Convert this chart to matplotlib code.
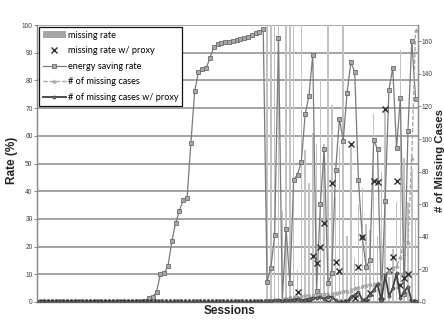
import numpy as np
import matplotlib
matplotlib.use("Agg")
import matplotlib.pyplot as plt
from matplotlib.patches import Patch
from matplotlib.lines import Line2D

# ---------------- data ----------------
n_sessions = 100
sessions = np.arange(n_sessions)

energy_saving_rate = [0.0] * 28 + [
    0.5, 1.3, 1.8, 3.7, 10, 10.5, 13, 22, 28.5, 33, 37, 37.5,
    57.4, 76, 83, 84, 84.4, 88, 92, 93, 93.4, 93.7, 94, 94.3,
    94.5, 94.8, 95.2, 95.8, 96.5, 97, 97.6, 98.5,
    7.1, 12.4, 24.1, 95.3, 0.5, 26.2, 6.7, 44.2, 46, 50.5,
    67.7, 74.5, 89.2, 4.1, 35.3, 55.3, 6.7, 10.6, 47.5, 66,
    58.3, 75.4, 86.5, 83.2, 43.9, 23.5, 12.7, 15.1, 58.6, 55.2,
    1, 36.5, 76.6, 84.5, 55.6, 73.7, 3, 61.9, 94.3, 73.3]

missing_rate = [0.0] * 60 + [
    100, 100, 100, 100, 33, 100, 100, 100, 11.5, 100,
    55, 43, 61, 57, 80, 57, 100, 71, 38, 56,
    100, 24, 57, 16, 35, 41, 28, 26, 68, 24,
    47, 70, 9, 19, 36, 91, 52, 36, 48, 30]

missing_rate_proxy = [0.0] * 60 + [
    0, 0, 0, 0, 0, 0, 0, 0, 3.7, 0,
    0, 0, 16.7, 14.2, 19.9, 28.7, 0, 42.9, 14.3, 11.2,
    0, 0, 57.1, 1.5, 12.5, 23.3, 0, 3.4, 43.7, 43.3,
    0.5, 69.5, 11.5, 16.1, 43.7, 6.1, 8.5, 10, 0, 0]

missing_cases = [0.0] * 60 + [
    1, 1, 1.5, 1.5, 2, 2.5, 2.8, 3, 3.2, 3.5,
    4, 4.2, 4.5, 4.6, 4.8, 5, 5.2, 5.4, 5.6, 6,
    6.5, 7, 7.5, 8.4, 9, 9.8, 10.4, 10.8, 11, 11.4,
    12.5, 16.5, 19, 20.6, 22, 27.7, 37, 37, 88.5, 167]

missing_cases_proxy = [0.0] * 60 + [
    0.5, 0.5, 1, 1, 0.5, 1, 1, 1.5, 2, 1,
    1.5, 2, 2.5, 2.5, 3, 2, 3.3, 3, 1, 0,
    0, 0, 3.3, 4.3, 6.3, 1.2, 2, 4.3, 7.3, 11,
    1, 16.5, 3.5, 8.5, 17.5, 2.5, 6.3, 9.4, 0, 0.5]

left_ticks = list(range(0, 101, 10))
right_ticks = list(range(0, 161, 20))

# ---------------- figure ----------------
W, H = 444, 321
fig = plt.figure(figsize=(W / 100, H / 100), dpi=100)
fig.patch.set_facecolor("white")
ax = fig.add_axes([37 / W, 1 - 302 / H, (417.5 - 37) / W, (302 - 25) / H])
ax2 = ax.twinx()

lab_font = dict(family="Liberation Sans", fontweight="bold", color="#222222")
tick_col = "#404040"
spine_col = "#8a8a8a"

bar_col = "#c2c2c2"
ax.bar(sessions, missing_rate, width=0.4, color=bar_col, zorder=1, linewidth=0)
ax.plot(sessions, energy_saving_rate, color="#7a7a7a", lw=0.9, marker="s", ms=2.6,
        mfc="#a8a8a8", mec="#6a6a6a", mew=0.6, zorder=3)
ax.plot(sessions, missing_rate_proxy, ls="none", marker="x", ms=3.8, mec="#303030",
        mew=1.0, zorder=4)

ax2.plot(sessions, missing_cases, color="#a6a6a6", ls=(0, (3, 1.5)), lw=1.0, marker="^",
         ms=2.4, mfc="#b0b0b0", mec="#9a9a9a", mew=0.5, zorder=3)
ax2.plot(sessions, missing_cases_proxy, color="#404040", lw=1.3, marker="o", ms=2.2,
         mfc="#707070", mec="#404040", mew=0.5, zorder=4)

ax.set_xlim(-0.4, 99.5)
ax.set_ylim(0, 100)
ax2.set_ylim(0, 170)
ax.set_yticks(left_ticks)
ax2.set_yticks(right_ticks)
ax.set_xticks([])

ax.yaxis.grid(True, color="#8a8a8a", lw=1.1)
ax.set_axisbelow(True)

for a in (ax, ax2):
    for s in a.spines.values():
        s.set_color(spine_col)
        s.set_linewidth(0.9)
    a.spines["top"].set_visible(False)
    a.tick_params(axis="y", labelsize=4.8, colors=spine_col, labelcolor=tick_col,
                  length=2.0, width=0.7, direction="out", pad=1.2)
    for t in a.get_yticklabels():
        t.set_family("Liberation Sans")

fig.text(12 / W, 1 - 160 / H, "Rate (%)", rotation=90, ha="center", va="center",
         fontsize=8.5, **lab_font)
fig.text(440 / W, 1 - 160 / H, "# of Missing Cases", rotation=90, ha="center",
         va="center", fontsize=8.2, **lab_font)
fig.text(229 / W, 1 - 311 / H, "Sessions", ha="center", va="center",
         fontsize=8.5, **lab_font)

handles = [
    Patch(facecolor="#a6a6a6", edgecolor="none"),
    Line2D([], [], ls="none", marker="x", ms=3.8, mec="#303030", mew=1.0),
    Line2D([], [], color="#7a7a7a", lw=0.9, marker="s", ms=2.6, mfc="#a8a8a8",
           mec="#6a6a6a", mew=0.6),
    Line2D([], [], color="#a6a6a6", ls=(0, (3, 1.5)), lw=1.0, marker="^", ms=2.4,
           mfc="#b0b0b0", mec="#9a9a9a", mew=0.5),
    Line2D([], [], color="#404040", lw=1.3, marker="o", ms=2.2, mfc="#707070",
           mec="#404040", mew=0.5),
]
labels = ["missing rate", "missing rate w/ proxy", "energy saving rate",
          "# of missing cases", "# of missing cases w/ proxy"]
leg = fig.legend(handles, labels, loc="upper left", bbox_to_anchor=(39 / W, 1 - 27 / H),
                 bbox_transform=fig.transFigure, prop=dict(family="Lato", size=6.6),
                 frameon=True, fancybox=False, framealpha=1, edgecolor="#111111",
                 borderaxespad=0, handlelength=2.5, handletextpad=0.25, labelspacing=0.72,
                 borderpad=0.4)
leg.get_frame().set_linewidth(0.9)
leg.set_zorder(10)

fig.savefig("out.png", dpi=100, facecolor="white")
